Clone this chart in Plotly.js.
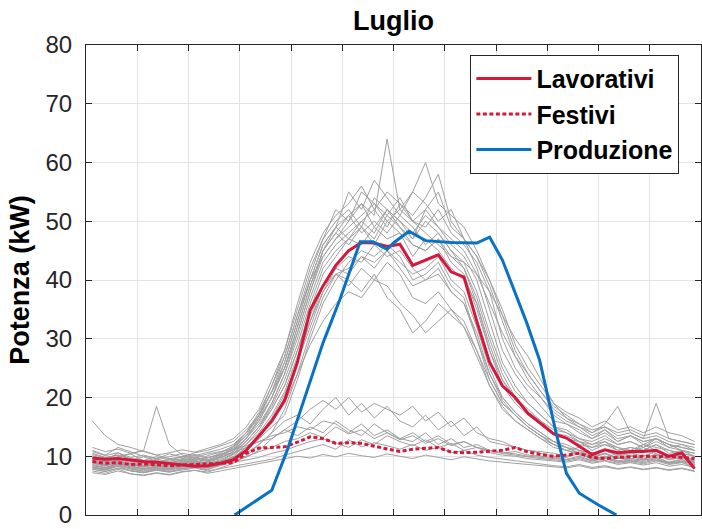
<!DOCTYPE html>
<html>
<head>
<meta charset="utf-8">
<script src="https://cdn.plot.ly/plotly-3.0.1.min.js"></script>
<style>html,body{margin:0;padding:0;background:#fff;}#chart{width:702px;height:529px;}</style>
</head>
<body>
<div id="chart"></div>
<script>
// Half-hour time grid (hours) used by the daily profiles
const hours = [0.25,0.75,1.25,1.75,2.25,2.75,3.25,3.75,4.25,4.75,5.25,5.75,
  6.25,6.75,7.25,7.75,8.25,8.75,9.25,9.75,10.25,10.75,11.25,11.75,
  12.25,12.75,13.25,13.75,14.25,14.75,15.25,15.75,16.25,16.75,17.25,17.75,
  18.25,18.75,19.25,19.75,20.25,20.75,21.25,21.75,22.25,22.75,23.25,23.75];

// Individual daily load profiles (kW), working days
const day01 = [9.2,8.6,9.4,8.1,8.8,8.3,7.9,8.5,8.9,9.3,9.8,10.5, 12.5,15,18,22,28,35,41,44,47,49,46,50, 48,44,47,45,42,40,36,28,22,19,17,15.5, 14,13,12.5,11,12,11.5,10.5,12,11,10,10.5,9];
const day02 = [10.5,9.8,10.2,9.5,9,8.7,9.4,8.9,9.6,9.1,10,11.2, 13,16.5,21,25,31,38,45,48,51,53,49,52, 50,47,52,49,46,44,40,33,26,22,19,17, 15,14.5,13,12.5,13.5,12,12.5,11.5,13,12,11,10.5];
const day03 = [8,7.6,8.3,7.5,7.2,7.8,7.4,7.9,8.1,7.7,8.5,9.5, 11,13,15,17,23,30,36,40,43,45,44,46, 44,40,41,43,39,37,30,23,19,17,15,13.5, 12,11.5,10.5,9.5,10,9.8,9.5,10.2,9.8,9,9.5,8.5];
const day04 = [11,10.2,11.5,10.8,10,9.6,10.4,9.9,10.6,11,11.8,12.5, 14.5,17,22,27,34,41,47,52,50,55,53,51, 54,50,49,52,48,46,43,38,30,25,22,20, 17.5,16,15,14,15.5,18.5,14,13,19,13,12.5,12];
const day05 = [7.5,7.1,7.8,7,6.8,7.2,6.9,7.4,7.6,7.3,8,8.8, 10,12,14,18,24,31,37,41,42,44,43,45, 43,41,42,44,40,38,32,25,20,17.5,15.5,14, 12.5,11.5,10.5,9.5,9.8,9.2,9,9.5,9.3,8.8,9,8];
const day06 = [9.8,9.2,10.6,9.4,9.9,9.1,8.7,9.5,9.2,10.1,10.7,11.6, 13.5,17,21,26,33,40,46,49,55,52,57,54, 51,55,53,50,52,47,42,35,28,24,21,18.5, 16,15.5,14,13,14.5,12.5,13.5,12.5,13,11.5,12,11];
const day07 = [8.6,8.1,8.8,8.4,7.9,8.2,8.6,7.8,8.4,8.9,9.2,10.3, 12,14,17,21,27,33,38,41,39,42,40,43, 41,37,36,38,35,33,28,22,18.5,16,14.5,13, 12,11,11.5,10.5,11,10.2,10.8,11.5,10.4,9.8,10.3,9.2];
const day08 = [8.2,7.8,8.6,7.9,7.5,8,7.7,8.3,8.6,8.1,8.9,9.8, 11.5,13.5,16,19,24,29,33,36,38,37,40,39, 36,34,31,33,35,32,27,22,18,16,14.5,13, 11.5,11,10.2,9.8,10.5,9.6,10,9.4,10.2,9.5,9.8,9];
const day09 = [10.1,9.4,9.9,10.4,9.2,8.8,9.6,9.3,8.9,9.7,10.3,11, 13,15.5,19,24,30,37,43,46,48,50,52,49, 53,51,54,58,50,47,44,39,33,27,23,20, 17,15.5,14.5,13,14,12.5,13.5,12,13,12,11.5,11];
const day10 = [9,8.4,9.1,8.7,8.2,8.6,8.3,8.8,9.1,8.7,9.4,10.4, 12.5,15,19,24,31,38,44,47,50,53,51,64, 52,50,48,46,44,42,37,30,24,20,17.5,15.5, 14,13,12,11.5,12.5,11,11.5,11,12,10.5,11,10];
const day11 = [8.8,8.3,9,8.5,8.1,8.7,8.2,8.9,8.5,9,9.6,10.8, 13,16,20,25,32,39,45,48,46,49,47,51, 49,46,45,47,43,41,35,28,23,20,18,16, 14.5,14,12.5,12,12.5,11.5,11,12,11.5,11,10.5,10];
const day12 = [9.5,9,9.7,9.1,8.7,9.3,8.9,9.4,9.8,9.2,10,11.3, 13.5,16,20,26,33,40,44,47,49,51,53,50, 52,55,60,53,51,49,45,40,34,28,24,21, 18,16.5,15.5,14,15,13.5,14,13,13.5,12.5,12,11.5];
const day13 = [7.8,7.4,8,7.6,7.2,7.7,7.3,7.9,8.2,7.8,8.4,9.2, 11,13,16,20,26,32,38,42,44,43,46,44, 45,42,40,41,38,36,31,24,19.5,17,15,13.5, 12,11,10.5,10,10.5,9.8,10.2,9.6,10.4,9.5,9.8,8.8];
const day14 = [10.8,10.1,10.6,9.8,10.2,9.6,9.9,10.5,10.1,10.7,11.2,12, 14,17.5,22,28,35,42,47,50,52,49,54,52, 50,48,51,49,47,45,41,36,31,27,24,21, 18.5,17,15.5,14.5,15,14,14.5,13.5,14,13,12.5,12];
const day15 = [8.4,8,8.7,8.2,7.8,8.3,7.9,8.5,8.8,8.2,9,10, 12,14.5,18,22,28,34,39,41,40,38,41,37, 35,31,33,36,34,32,28,23,19,17,15,13.5, 12.5,11.5,11,10,11,10,10.5,10,10.8,9.8,10,9.2];
const day16 = [9.6,9,9.8,9.2,8.9,9.5,9.1,9.6,9.9,9.4,10.2,11.5, 14,17,21,27,34,40,46,49,47,50,48,52, 49,47,50,48,45,43,38,31,25,21,19,17, 15,14,13,12,13,12,12.5,11.5,12.5,11.5,11,10.5];
const day17 = [11.5,10.8,11.2,10.5,10.9,10.2,10.6,11.1,10.7,11.4,12,13, 15,18,23,28,36,43,48,51,53,56,52,55, 53,50,52,55,49,47,44,40,35,29,25,22, 19,17.5,16.5,15,16,14.5,15,14,15,14,13.5,12.5];
const day18 = [8.1,7.7,8.4,7.8,7.4,7.9,7.6,8.1,8.4,8,8.7,9.7, 11.5,13.5,16.5,20.5,26,33,39,42,41,44,42,45, 42,39,40,42,38,36,30,24,20,17.5,15.5,14, 12.5,12,11,10.5,11,10.2,10.6,10,10.8,10,10.2,9.3];
const day19 = [9.3,8.8,9.5,8.9,8.5,9.1,8.7,9.2,9.6,9.1,9.8,10.8, 12.5,15,18.5,23,29,36,42,45,47,46,49,47, 48,46,45,47,44,43,41,38,34,30,27,23, 19,16.5,15,13.5,14.5,13,13.5,12.5,13,12,11.5,11];
const day20 = [10.3,9.7,10.2,9.6,9.3,9.9,9.4,9.8,10.3,9.7,10.5,11.8, 14,16.5,20,25,32,39,45,49,51,48,50,48, 51,49,46,48,45,42,36,29,23,19.5,17.5,16, 14,13.5,12.5,11.5,12,11,11.5,11,12,11,10.5,10];
// Individual daily load profiles (kW), holidays
const day21 = [8.5,8,8.8,8.2,7.9,8.4,8,8.6,8.9,8.4,8.8,9.2, 9.8,11,13,14.5,16,18,19.5,18,20,17.5,19,18, 17,18.5,16,17.5,15,16.5,14,13,12.5,11.5,11,10.5, 10,9.8,10.5,9.5,10,9.2,9.6,9.3,9.8,9,9.4,8.8];
const day22 = [9,8.6,9.3,8.7,8.4,8.9,8.5,9,9.3,8.8,9.2,9.8, 10.5,12,14,16,17,15.5,18,20,17,19,16.5,18.5, 16,15,17,14.5,16,13.5,15,12.5,12,11.5,11,10.8, 10.5,10,10.8,9.8,10.4,9.6,10,9.5,10.2,9.4,9.8,9];
const day23 = [7.2,6.9,7.5,7,6.7,7.1,6.8,7.3,7.6,7.1,7.5,7.9, 8.3,8.8,9.2,9.5,10,9.7,10.3,9.9,10.5,10.1,9.8,10.4, 10,9.6,10.2,9.8,9.4,9.9,9.5,9.2,9,8.8,8.6,8.4, 8.2,8,8.4,7.9,8.2,7.8,8.1,7.7,8,7.6,7.9,7.4];
const day24 = [16,13.5,12,11.5,10.8,10.2,9.6,9.9,9.4,9.8,10.2,10.6, 11.5,12.5,13.5,14,15,14.5,16,15.5,14,15.5,13.5,14.5, 13,14,12.5,13.5,12,12.5,11.5,11,10.5,10.8,10.2,10, 9.8,9.5,10,9.3,9.7,9,9.4,9.1,9.6,8.8,9.2,8.6];
const day25 = [9.6,9.2,9.9,10.5,11,18.5,12,10.2,9.8,10.4,10.8,11.2, 11.8,12.5,13,14.5,13.5,15,14,16,14.5,13.5,15.5,14, 13,12.5,14,12,13,11.5,12,11,10.5,10.2,9.8,9.6, 9.4,9.2,9.6,9,9.3,8.8,9.1,8.7,9.2,8.6,8.9,8.4];
const day26 = [7.8,7.4,8,7.5,7.2,7.6,7.3,7.7,8,7.5,7.9,8.3, 8.6,9,9.5,10.2,10.8,11.5,12,11.2,12.8,11.6,12.3,11.8, 11.2,12,11,11.5,10.6,11,10.2,9.8,9.5,9.2,8.9,8.6, 8.4,8.2,8.6,8.1,8.4,7.9,8.2,7.8,8.1,7.7,8,7.5];
const day27 = [8.9,8.4,9.1,8.6,8.2,8.7,8.3,8.8,9.1,8.6,9,9.5, 10,10.8,11.5,12.5,13,14,13.2,15,13.8,14.5,13,14, 12.8,13.5,12.2,13,11.8,12.5,11.5,11,10.6,10.4,10,9.8, 9.6,9.4,9.8,9.2,9.6,9,9.3,8.9,9.4,8.8,9.1,8.6];
const day28 = [8.2,7.8,8.5,8,7.7,8.1,7.8,8.3,8.6,8.1,8.5,8.9, 9.3,9.8,10.5,11,11.8,12.5,13,12.2,11.5,12.8,12,13.5, 12.5,11.8,12.8,11.5,12.2,11,11.5,10.6,10.2,10,9.6,9.4, 9.2,9,9.4,8.8,9.2,8.6,8.9,8.5,8.9,8.3,8.6,8.1];

// Average profiles (kW)
const lavorativi = [9.7,9.5,9.6,9.3,9.1,9.0,8.8,8.5,8.3,8.4,8.8,9.4, 11,13.5,16,19.5,26,34.9,39,42.5,45,46.4,46.3,45.7, 46.1,42.5,43.4,44.3,41.4,40.5,33,26,22,20,17.3,15.5, 13.8,13.1,11.7,10.3,11.1,10.6,10.8,10.8,11.0,10.0,10.6,7.9];
const festivi = [9.1,8.8,8.9,8.6,8.7,8.5,8.4,8.5,8.6,8.6,8.8,8.9, 10.5,11.4,11.5,11.6,12.4,13.3,13.0,12.2,12.3,12.2,11.7,11.2, 10.8,11.2,11.3,11.5,10.7,10.6,10.7,10.9,11.0,11.5,10.7,10.3, 10.0,10.2,10.5,9.8,9.6,9.8,9.9,10.0,9.9,10.0,9.8,9.6];

// PV production (kW)
const prodHours = [5.8,6.5,7.25,7.85,8.5,9.25,9.9,10.7,11.2,11.75,12.0,12.6,13.25,14.25,15.25,15.75,16.25,17.2,17.7,18.35,18.75,19.25,20.0,20.7];
const produzione = [0,2.0,4.2,11,19.6,29.3,36.6,46.5,46.5,45.2,46.3,48.3,46.7,46.4,46.3,47.3,43.4,32.7,26.4,13.9,7.1,3.7,1.7,0];

const dailyProfiles = [day01,day02,day03,day04,day05,day06,day07,day08,day09,day10,
  day11,day12,day13,day14,day15,day16,day17,day18,day19,day20,
  day21,day22,day23,day24,day25,day26,day27,day28];

const yTicks = [0,10,20,30,40,50,60,70,80];
const xTicks = [0,2,4,6,8,10,12,14,16,18,20,22,24];

const RED = '#d5173c';
const BLUE = '#0a72c4';
const GRAY = '#a0a0a0';
const INK = '#262626';

const traces = dailyProfiles.map(v => ({
  x: hours, y: v, type: 'scatter', mode: 'lines',
  line: {color: GRAY, width: 1}, showlegend: false, hoverinfo: 'skip'
}));
traces.push({x: hours, y: festivi, type: 'scatter', mode: 'lines', name: 'Festivi',
  line: {color: RED, width: 3, dash: '4px,2.5px'}, legendrank: 2});
traces.push({x: hours, y: lavorativi, type: 'scatter', mode: 'lines', name: 'Lavorativi',
  line: {color: RED, width: 3}, legendrank: 1});
traces.push({x: prodHours, y: produzione, type: 'scatter', mode: 'lines', name: 'Produzione',
  line: {color: BLUE, width: 3}, legendrank: 3});

const axisCommon = {
  showline: true, linecolor: INK, linewidth: 1, mirror: 'allticks',
  ticks: 'inside', ticklen: 6, tickcolor: INK, tickwidth: 1,
  showgrid: true, gridcolor: '#e3e3e3', gridwidth: 1, zeroline: false,
  tickfont: {family: 'Liberation Sans, Arial, sans-serif', size: 24, color: INK}
};

const layout = {
  width: 702, height: 529,
  margin: {l: 85.5, r: 1, t: 45, b: 14},
  paper_bgcolor: '#ffffff', plot_bgcolor: '#ffffff',
  font: {family: 'Liberation Sans, Arial, sans-serif', color: INK},
  title: {text: '<b>Luglio</b>', x: 0.5, xref: 'paper', xanchor: 'center',
    y: 0.962, yref: 'container', yanchor: 'middle',
    font: {size: 27, color: '#000'}},
  xaxis: Object.assign({}, axisCommon, {range: [0, 24], tickvals: xTicks, showticklabels: false}),
  yaxis: Object.assign({}, axisCommon, {range: [0, 80], tickvals: yTicks, ticklabelstandoff: 8,
    title: {text: '<b>Potenza (kW)</b>', font: {size: 27, color: '#000'}, standoff: 8}}),
  legend: {x: 0.625, xanchor: 'left', y: 0.979, yanchor: 'top',
    bgcolor: '#ffffff', bordercolor: INK, borderwidth: 1,
    font: {size: 25, color: '#000', family: 'Liberation Sans, Arial, sans-serif', weight: 'bold'},
    itemwidth: 55, traceorder: 'normal'},
  showlegend: true
};

Plotly.newPlot('chart', traces, layout, {staticPlot: true, displayModeBar: false});
</script>
</body>
</html>
